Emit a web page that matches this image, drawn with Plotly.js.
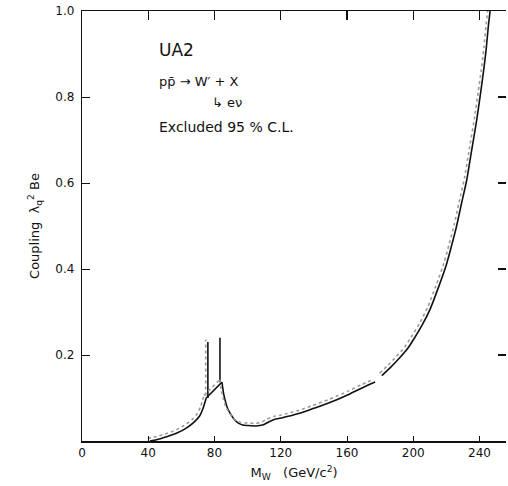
<!DOCTYPE html>
<html>
<head>
<meta charset="utf-8">
<script src="https://cdn.plot.ly/plotly-3.0.1.min.js"></script>
<style>html,body{margin:0;padding:0;background:#fff;}#chart{width:508px;height:486px;}</style>
</head>
<body>
<div id="chart"></div>
<script>
// Exclusion contour (95% CL): mass M_W (GeV/c^2) vs coupling; null separates drawn segments
const massMain = [41, 45, 51, 57, 63, 68, 71, 73, 75, null, 75, 84.5, null, 84.5, 85.5, 86.4, 88, 89.4, 92, 94.2, 97, 100, 105, 109, 113, 117, 121, 125, 132, 140, 150, 162, 170, 177, null, 181, 186, 191, 196, 200, 205, 210, 215, 220, 223, 226, 229, 232.3, 235, 238.3, 240.5, 242.3, 244, 245.3, 246.4];
const coupMain = [0.0, 0.003, 0.01, 0.018, 0.03, 0.045, 0.058, 0.075, 0.1, null, 0.1, 0.137, null, 0.137, 0.11, 0.095, 0.075, 0.065, 0.05, 0.042, 0.037, 0.036, 0.035, 0.037, 0.045, 0.051, 0.054, 0.058, 0.065, 0.076, 0.09, 0.11, 0.125, 0.137, null, 0.152, 0.17, 0.19, 0.212, 0.235, 0.267, 0.305, 0.355, 0.41, 0.452, 0.497, 0.55, 0.607, 0.67, 0.746, 0.805, 0.856, 0.91, 0.963, 1.0];
const massLeftEdge = [76, 76];
const coupLeftEdge = [0.1, 0.23];
const massRightEdge = [83.3, 83.3];
const coupRightEdge = [0.137, 0.24];
const xTicks = [0, 40, 80, 120, 160, 200, 240];
const yTicks = [0.2, 0.4, 0.6, 0.8, 1.0];
const yTickText = ['0.2', '0.4', '0.6', '0.8', '1.0'];

const F = 'DejaVu Sans, Liberation Sans, sans-serif';
const black = '#111';

const traces = [
  // hatching on the excluded side, drawn slightly offset via overlay axes
  {x: massMain, y: coupMain, xaxis: 'x3', yaxis: 'y3', mode: 'lines',
   line: {color: '#9a9a9a', width: 1.6, dash: 'dot', shape: 'spline', smoothing: 0.6}, hoverinfo: 'skip', showlegend: false},
  {x: massLeftEdge, y: coupLeftEdge, xaxis: 'x3', yaxis: 'y3', mode: 'lines',
   line: {color: '#9a9a9a', width: 1.6, dash: 'dot'}, hoverinfo: 'skip', showlegend: false},
  {x: massMain, y: coupMain, mode: 'lines', line: {color: black, width: 1.6, shape: 'spline', smoothing: 0.6}, showlegend: false},
  {x: massLeftEdge, y: coupLeftEdge, mode: 'lines', line: {color: black, width: 1.6}, showlegend: false},
  {x: massRightEdge, y: coupRightEdge, mode: 'lines', line: {color: black, width: 1.6}, showlegend: false},
  // dummy trace to activate the mirrored tick axes
  {x: [null], y: [null], xaxis: 'x2', yaxis: 'y2', mode: 'lines', showlegend: false, hoverinfo: 'skip'}
];

const layout = {
  width: 508, height: 486,
  margin: {l: 82, r: 2, t: 11, b: 45},
  paper_bgcolor: '#fff', plot_bgcolor: '#fff',
  font: {family: F, color: black, size: 12},
  showlegend: false,
  xaxis: {
    range: [0, 256], tickvals: xTicks, ticks: 'inside', ticklen: 5, tickcolor: black,
    showline: true, linecolor: black, linewidth: 1.5, showgrid: false, zeroline: false,
    tickfont: {family: F, size: 12, color: black},
    title: {text: 'M<sub>W</sub>   (GeV/c<sup>2</sup>)', font: {family: F, size: 13, color: black}, standoff: 9}
  },
  yaxis: {
    range: [0, 1], tickvals: yTicks, ticktext: yTickText, ticks: 'inside', ticklen: 8, tickcolor: black,
    showline: true, linecolor: black, linewidth: 1.2, showgrid: false, zeroline: false,
    tickfont: {family: F, size: 12, color: black}, ticklabelstandoff: 4,
    title: {text: 'Coupling  λ<sub>q</sub><sup>2</sup> Be', font: {family: F, size: 13, color: black}, standoff: 12}
  },
  xaxis2: {
    overlaying: 'x', side: 'top', anchor: 'y2', range: [0, 256], tickvals: [40, 80, 120, 160, 200, 240],
    ticks: 'inside', ticklen: 9, tickwidth: 1.2, tickcolor: black, showticklabels: false,
    showline: true, linecolor: black, linewidth: 1.5, showgrid: false, zeroline: false
  },
  yaxis2: {
    overlaying: 'y', side: 'right', anchor: 'x2', range: [0, 1], tickvals: [0.2, 0.4, 0.6, 0.8],
    ticks: 'inside', ticklen: 8, tickwidth: 1.2, tickcolor: black, showticklabels: false,
    showline: false, showgrid: false, zeroline: false
  },
  xaxis3: {overlaying: 'x', anchor: 'y3', range: [1.3, 257.3], visible: false, showticklabels: false, ticks: '', showgrid: false, zeroline: false},
  yaxis3: {overlaying: 'y', anchor: 'x3', range: [-0.006, 0.994], visible: false, showticklabels: false, ticks: '', showgrid: false, zeroline: false},
  annotations: [
    {x: 45.3, y: 0.909, xref: 'x', yref: 'y', xanchor: 'left', yanchor: 'middle', showarrow: false,
     text: 'UA2', font: {family: F, size: 17, color: black}},
    {x: 45.3, y: 0.835, xref: 'x', yref: 'y', xanchor: 'left', yanchor: 'middle', showarrow: false,
     text: 'pp̄ → W′ + X', font: {family: F, size: 13, color: black}},
    {x: 77, y: 0.788, xref: 'x', yref: 'y', xanchor: 'left', yanchor: 'middle', showarrow: false,
     text: '↳ eν', font: {family: F, size: 13, color: black}},
    {x: 45.3, y: 0.73, xref: 'x', yref: 'y', xanchor: 'left', yanchor: 'middle', showarrow: false,
     text: 'Excluded 95 % C.L.', font: {family: F, size: 14, color: black}}
  ]
};

Plotly.newPlot('chart', traces, layout, {displayModeBar: false, staticPlot: true});
</script>
</body>
</html>
